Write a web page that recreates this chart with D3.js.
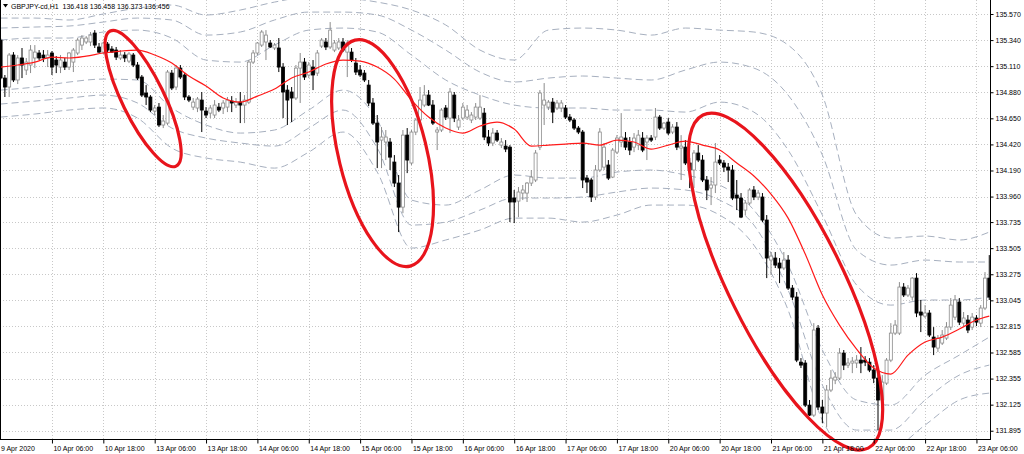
<!DOCTYPE html>
<html><head><meta charset="utf-8">
<script src="https://cdn.jsdelivr.net/npm/d3@7/dist/d3.min.js"></script>
<style>
html,body{margin:0;padding:0;background:#fff;overflow:hidden;}
svg{display:block;}
text{font-family:"Liberation Sans",Arial,sans-serif;font-size:7px;fill:#000;}
</style></head><body>
<svg id="c" width="1024" height="454"></svg>
<script>
const header = "GBPJPY-cd,H1  136.418 136.458 136.373 136.456";
const opens = [
135.340,135.005,134.926,135.208,134.988,135.182,135.076,135.120,135.182,135.226,
135.208,135.182,135.226,135.164,135.102,135.146,135.102,135.146,135.226,135.296,
135.323,135.323,135.402,135.279,135.234,135.305,135.261,135.252,135.182,135.208,
135.155,135.208,135.120,135.014,134.873,134.838,134.714,134.749,134.591,134.608,
135.049,134.926,135.093,135.032,134.838,134.749,134.741,134.811,134.714,134.696,
134.679,134.749,134.741,134.749,134.802,134.767,134.793,134.767,134.793,135.146,
135.226,135.296,135.323,135.314,135.270,135.270,135.102,134.899,134.882,134.829,
135.093,135.146,135.032,135.102,135.049,135.287,135.323,135.279,135.252,135.270,
135.323,135.234,135.234,135.137,135.076,135.049,134.943,134.785,134.608,134.458,
134.441,134.441,134.264,134.079,133.867,134.502,134.256,134.529,134.635,134.767,
134.855,134.767,134.529,134.547,134.741,134.652,134.855,134.573,134.652,134.661,
134.635,134.661,134.652,134.696,134.485,134.432,134.520,134.414,134.405,134.396,
133.947,133.920,133.991,133.991,134.079,134.106,134.396,134.767,134.749,134.793,
134.741,134.741,134.741,134.661,134.635,134.564,134.529,134.123,134.106,133.956,
134.194,134.220,134.238,134.132,134.352,134.441,134.476,134.441,134.396,134.414,
134.476,134.441,134.476,134.485,134.661,134.564,134.617,134.529,134.573,134.388,
134.396,134.256,134.194,134.344,134.282,134.106,134.035,134.062,134.282,134.256,
134.220,134.194,133.973,133.947,133.841,133.903,134.018,133.956,133.956,133.753,
133.400,133.418,133.374,133.330,133.400,133.153,133.074,132.500,132.492,132.121,
132.033,132.800,132.104,132.051,132.254,132.342,132.359,132.580,132.474,132.492,
132.492,132.518,132.518,132.500,132.430,132.359,132.166,132.315,132.518,132.756,
132.756,133.162,133.092,133.074,133.241,132.942,132.906,132.933,132.721,132.624,
132.668,132.712,132.809,132.897,133.030,132.844,132.871,132.809,132.889,132.844,
132.977,133.241];
const highs = [
135.358,135.032,135.226,135.234,135.208,135.270,135.182,135.296,135.296,135.252,
135.252,135.252,135.243,135.199,135.208,135.182,135.234,135.270,135.358,135.384,
135.375,135.411,135.428,135.314,135.323,135.323,135.287,135.279,135.252,135.234,
135.234,135.226,135.146,135.032,134.943,134.855,134.767,134.785,134.679,135.076,
135.076,135.120,135.120,135.049,134.855,134.829,134.838,134.882,134.749,134.767,
134.811,134.785,134.811,134.838,134.846,134.829,134.882,134.855,135.164,135.252,
135.323,135.428,135.428,135.340,135.314,135.358,135.137,134.943,134.926,135.120,
135.226,135.182,135.146,135.164,135.252,135.358,135.358,135.499,135.340,135.358,
135.358,135.340,135.270,135.182,135.120,135.076,134.988,134.829,134.679,134.573,
134.547,134.476,134.326,134.150,134.547,134.564,134.547,134.652,134.926,134.943,
134.899,134.811,134.573,134.741,134.767,134.917,134.882,134.679,134.785,134.767,
134.705,134.785,134.855,134.741,134.547,134.564,134.547,134.476,134.458,134.414,
134.018,134.044,134.062,134.088,134.194,134.370,134.899,134.961,134.811,134.829,
134.811,134.811,134.767,134.688,134.652,134.582,134.547,134.150,134.123,134.238,
134.564,134.432,134.282,134.388,134.502,134.696,134.529,134.485,134.520,134.547,
134.529,134.502,134.502,134.741,134.679,134.617,134.652,134.599,134.617,134.502,
134.458,134.300,134.370,134.414,134.326,134.141,134.132,134.432,134.326,134.282,
134.256,134.238,134.106,133.991,133.929,134.035,134.053,134.018,133.991,133.797,
133.471,133.471,133.418,133.471,133.444,133.180,133.118,132.536,132.518,132.166,
132.844,132.827,132.166,132.298,132.430,132.412,132.624,132.607,132.536,132.545,
132.562,132.633,132.553,132.536,132.474,132.403,132.386,132.536,132.844,132.871,
133.206,133.197,133.180,133.250,133.285,133.048,133.003,132.959,132.809,132.739,
132.783,132.853,133.065,133.092,133.065,132.942,132.915,132.933,132.915,133.003,
133.294,133.444];
const lows = [
134.988,134.838,134.838,134.970,134.952,135.005,135.032,135.049,135.093,135.164,
135.146,135.102,135.032,135.049,135.049,135.076,135.076,135.058,135.208,135.252,
135.305,135.287,135.270,135.226,135.217,135.234,135.226,135.164,135.164,135.146,
135.137,135.102,134.988,134.838,134.767,134.705,134.679,134.573,134.564,134.591,
134.899,134.899,134.996,134.811,134.793,134.723,134.705,134.529,134.652,134.652,
134.652,134.705,134.688,134.705,134.705,134.741,134.608,134.608,134.776,135.129,
135.208,135.279,135.164,135.270,135.252,135.058,134.652,134.591,134.617,134.811,
134.785,134.988,135.005,134.899,135.023,135.270,135.252,135.261,135.234,135.252,
135.234,135.014,135.146,135.032,135.014,134.970,134.758,134.591,134.211,134.211,
134.282,134.194,134.044,133.647,133.814,134.167,134.238,134.502,134.617,134.749,
134.758,134.591,134.370,134.529,134.635,134.520,134.617,134.547,134.635,134.635,
134.608,134.635,134.635,134.458,134.405,134.405,134.441,134.388,134.352,133.735,
133.726,133.779,133.929,133.912,134.053,134.088,134.370,134.591,134.723,134.608,
134.723,134.705,134.644,134.617,134.547,134.511,134.035,133.991,133.912,133.929,
134.176,134.194,134.106,134.123,134.335,134.396,134.370,134.326,134.352,134.370,
134.352,134.282,134.441,134.458,134.547,134.547,134.502,134.511,134.370,134.106,
134.238,134.035,134.035,134.264,134.088,133.929,133.885,133.991,134.238,134.176,
134.088,133.929,133.841,133.770,133.797,133.885,133.929,133.929,133.735,133.241,
133.268,133.330,133.197,133.312,133.136,133.048,132.500,132.448,132.104,132.025,
132.016,132.078,131.963,131.928,132.236,132.306,132.342,132.430,132.448,132.403,
132.448,132.403,132.465,132.412,132.315,131.901,132.078,132.298,132.500,132.739,
132.739,133.074,133.074,133.048,132.897,132.765,132.889,132.721,132.562,132.589,
132.651,132.695,132.783,132.871,132.827,132.818,132.756,132.783,132.818,132.809,
132.959,133.048];
const closes = [
135.005,134.926,135.208,134.988,135.182,135.120,135.146,135.252,135.234,135.182,
135.182,135.208,135.102,135.120,135.164,135.102,135.226,135.252,135.340,135.358,
135.358,135.384,135.296,135.234,135.314,135.252,135.234,135.190,135.208,135.182,
135.217,135.120,135.005,134.855,134.838,134.723,134.741,134.591,134.626,135.058,
134.917,135.093,135.014,134.838,134.811,134.793,134.820,134.723,134.679,134.741,
134.767,134.723,134.785,134.811,134.785,134.793,134.767,134.811,135.146,135.226,
135.314,135.411,135.384,135.279,135.296,135.102,134.882,134.811,134.829,135.093,
135.146,135.014,135.120,135.032,135.226,135.340,135.279,135.428,135.314,135.323,
135.252,135.314,135.164,135.058,135.032,134.988,134.785,134.608,134.441,134.485,
134.485,134.308,134.079,133.867,134.502,134.282,134.529,134.635,134.811,134.855,
134.767,134.608,134.547,134.723,134.661,134.882,134.652,134.635,134.749,134.723,
134.679,134.749,134.749,134.485,134.432,134.520,134.458,134.441,134.379,133.912,
133.912,134.000,134.018,134.079,134.132,134.344,134.873,134.811,134.793,134.705,
134.785,134.785,134.661,134.635,134.564,134.529,134.106,134.088,133.956,134.194,
134.529,134.396,134.123,134.370,134.476,134.485,134.396,134.370,134.476,134.502,
134.370,134.476,134.458,134.661,134.564,134.608,134.520,134.573,134.396,134.405,
134.256,134.194,134.344,134.282,134.106,134.018,134.062,134.264,134.256,134.220,
134.194,133.947,133.947,133.779,133.903,134.018,133.956,133.991,133.753,133.418,
133.435,133.356,133.330,133.400,133.153,133.074,132.518,132.474,132.121,132.033,
132.783,132.104,132.051,132.254,132.359,132.368,132.580,132.474,132.492,132.509,
132.518,132.492,132.500,132.430,132.359,132.166,132.324,132.518,132.756,132.827,
133.162,133.092,133.153,133.241,132.933,132.915,132.933,132.739,132.633,132.712,
132.739,132.809,133.003,133.048,132.853,132.889,132.783,132.897,132.853,132.977,
133.241,133.074];
// moving average (red line), read every 4 bars
const maBars = [0,4,8,12,16,20,24,28,32,36,40,44,48,52,56,60,64,68,72,76,80,84,88,92,96,100,104,108,112,116,120,124,128,132,136,140,144,148,152,156,160,164,168,172,176,180,184,188,192,196,200,204,208,212,216,220,224,228,231];
const maValues = [135.102,135.120,135.146,135.190,135.182,135.199,135.226,135.243,135.252,135.208,135.137,135.023,134.935,134.829,134.793,134.846,134.908,135.005,135.058,135.129,135.164,135.155,135.102,134.996,134.811,134.661,134.564,134.520,134.582,134.617,134.555,134.405,134.414,134.423,134.432,134.414,134.458,134.441,134.379,134.414,134.449,134.414,134.370,134.256,134.141,133.982,133.770,133.453,133.092,132.827,132.615,132.448,132.395,132.562,132.677,132.721,132.792,132.871,132.906];
// dashed channel lines, read every 8 bars
const bandBars = [0,8,16,24,32,40,48,56,64,72,80,88,96,104,112,120,128,136,144,152,160,168,176,184,192,200,208,216,224,231];
const upper3 = [135.534,135.534,135.517,135.570,135.622,135.649,135.561,135.605,135.675,135.719,135.711,135.675,135.605,135.473,135.252,135.164,135.428,135.446,135.428,135.384,135.446,135.428,135.411,135.296,134.855,133.797,133.594,133.612,133.577,133.647];
const upper2 = [135.446,135.455,135.464,135.499,135.534,135.517,135.384,135.411,135.517,135.587,135.587,135.561,135.428,135.252,135.058,134.970,135.005,135.023,135.005,134.988,135.076,135.146,135.093,134.855,134.326,133.488,133.356,133.400,133.383,133.383];
const upper1 = [135.340,135.358,135.358,135.411,135.428,135.358,135.164,135.146,135.296,135.428,135.446,135.411,135.208,134.988,134.855,134.767,134.741,134.741,134.723,134.723,134.705,134.793,134.705,134.370,133.797,133.180,133.003,133.048,133.048,133.074];
const lower1 = [134.899,134.926,134.970,134.996,134.988,134.741,134.591,134.520,134.547,134.723,134.899,134.635,133.929,133.885,134.018,134.150,134.123,134.123,134.176,134.194,134.150,134.062,133.841,133.356,132.607,132.166,132.121,132.386,132.562,132.721];
const lower2 = [134.776,134.802,134.829,134.855,134.785,134.564,134.476,134.432,134.405,134.564,134.723,134.388,133.709,133.735,133.841,133.947,133.947,133.956,134.000,134.035,134.018,133.929,133.709,133.136,132.298,131.901,131.901,132.166,132.386,132.474];
const lower3 = [134.661,134.688,134.723,134.741,134.652,134.388,134.300,134.264,134.211,134.352,134.529,134.176,133.506,133.577,133.665,133.770,133.770,133.735,133.797,133.885,133.885,133.797,133.532,132.959,131.989,131.681,131.725,131.945,132.166,132.227];
const priceTicks = [135.570,135.340,135.110,134.880,134.650,134.420,134.190,133.960,133.735,133.505,133.275,133.045,132.815,132.585,132.355,132.125,131.895];
const timeTickBars = [0,12,24,36,48,60,72,84,96,108,120,132,144,156,168,180,192,204,216,228];
const timeTickLabels = ["9 Apr 2020","10 Apr 06:00","10 Apr 18:00","13 Apr 06:00","13 Apr 18:00","14 Apr 06:00","14 Apr 18:00","15 Apr 06:00","15 Apr 18:00","16 Apr 06:00","16 Apr 18:00","17 Apr 06:00","17 Apr 18:00","20 Apr 06:00","20 Apr 18:00","21 Apr 06:00","21 Apr 18:00","22 Apr 06:00","22 Apr 18:00","23 Apr 06:00"];
// hand-drawn red ellipses: axis from (bar, price) to (bar, price), half width px
const marks = [
  {b0:25.6, p0:135.420, b1:41.0, p1:134.229, hw:21},
  {b0:82.8, p0:135.340, b1:95.7, p1:133.347, hw:44},
  {b0:164.1, p0:134.679, b1:202.7, p1:131.742, hw:57}
];

const svg = d3.select("#c");
const L = 0, R = 990, T = 0, B = 440;
const x = d3.scaleLinear().domain([0, 231]).range([0.6, 989.28]);
const y = d3.scaleLinear().domain([131.8134, 135.6846]).range([440, 1]);

svg.append("defs").append("clipPath").attr("id","clip")
  .append("rect").attr("x",L).attr("y",T).attr("width",R-L).attr("height",B-T);

// grid
const grid = svg.append("g");
grid.selectAll("line.h").data(priceTicks).join("line")
  .attr("x1",L).attr("x2",R).attr("y1",d=>Math.round(y(d))+0.5).attr("y2",d=>Math.round(y(d))+0.5)
  .attr("stroke","#c8c8c8").attr("stroke-dasharray","1,2");
grid.selectAll("line.v").data(timeTickBars.slice(1)).join("line")
  .attr("y1",T).attr("y2",B).attr("x1",d=>Math.round(x(d))+0.5).attr("x2",d=>Math.round(x(d))+0.5)
  .attr("stroke","#c8c8c8").attr("stroke-dasharray","1,2");

const plot = svg.append("g").attr("clip-path","url(#clip)");

// dashed channel lines
const bandLine = d3.line().x(d=>x(d[0])).y(d=>y(d[1])).curve(d3.curveMonotoneX);
[upper3,upper2,upper1,lower1,lower2,lower3].forEach(arr=>{
  plot.append("path").datum(bandBars.map((b,k)=>[b,arr[k]]))
    .attr("d",bandLine).attr("fill","none").attr("stroke","#a7b0bf")
    .attr("stroke-width",1).attr("stroke-dasharray","7,4");
});

// candles
const idx = d3.range(opens.length);
const cg = plot.append("g");
cg.selectAll("line").data(idx).join("line")
  .attr("x1",i=>x(i)).attr("x2",i=>x(i))
  .attr("y1",i=>y(highs[i])).attr("y2",i=>y(lows[i]))
  .attr("stroke",i=>closes[i]>=opens[i]?"#8c8c8c":"#000").attr("stroke-width",1);
cg.selectAll("rect").data(idx).join("rect")
  .attr("x",i=>x(i)-1.5).attr("width",3)
  .attr("y",i=>y(Math.max(opens[i],closes[i])))
  .attr("height",i=>Math.max(0.8,Math.abs(y(opens[i])-y(closes[i]))))
  .attr("fill",i=>closes[i]>=opens[i]?"#fff":"#000")
  .attr("stroke",i=>closes[i]>=opens[i]?"#8c8c8c":"#000").attr("stroke-width",0.8);

// MA
plot.append("path").datum(maBars.map((b,k)=>[b,maValues[k]]))
  .attr("d",d3.line().x(d=>x(d[0])).y(d=>y(d[1])).curve(d3.curveMonotoneX))
  .attr("fill","none").attr("stroke","#ff1a1a").attr("stroke-width",1.2);

// ellipses
svg.append("g").selectAll("ellipse").data(marks).join("ellipse")
  .each(function(m){
    const xa=x(m.b0), ya=y(m.p0), xb=x(m.b1), yb=y(m.p1);
    const cx=(xa+xb)/2, cy=(ya+yb)/2;
    const len=Math.hypot(xb-xa,yb-ya)/2;
    const ang=Math.atan2(yb-ya,xb-xa)*180/Math.PI;
    d3.select(this).attr("cx",0).attr("cy",0).attr("rx",len).attr("ry",m.hw)
      .attr("transform",`translate(${cx},${cy}) rotate(${ang})`);
  })
  .attr("fill","none").attr("stroke","#e8141c").attr("stroke-width",3.2);

// axes
const ya = svg.append("g").attr("transform",`translate(${R+0.5},0)`)
  .call(d3.axisRight(y).tickValues(priceTicks).tickFormat(d3.format(".3f")).tickSize(3).tickPadding(2));
ya.select(".domain").attr("stroke","#000").attr("d",`M0,0V${B}`);
ya.selectAll("text").style("font-size","7px").attr("fill","#222");
ya.selectAll(".tick line").attr("stroke","#000");

const xa = svg.append("g").attr("transform",`translate(0,${B-0.5})`)
  .call(d3.axisBottom(x).tickValues(timeTickBars).tickFormat((d,k)=>timeTickLabels[k]).tickSize(4).tickSizeOuter(0));
xa.select(".domain").attr("stroke","#000").attr("d",`M0,0H${R}`);
xa.selectAll(".tick line").attr("stroke","#000").filter((d,k)=>k===0).remove();
xa.selectAll("text").attr("text-anchor","start").attr("dx","1").attr("dy","0").attr("y",11).attr("fill","#222").style("font-size","7px");
xa.selectAll(".tick").filter((d,k)=>k===0).attr("transform","translate(0,0)");

// left border
svg.append("line").attr("x1",0.5).attr("x2",0.5).attr("y1",0).attr("y2",B).attr("stroke","#000");

// header
svg.append("path").attr("d","M3,4 L8,4 L5.5,7.5 Z").attr("fill","#000");
svg.append("text").attr("x",11).attr("y",8.5).text(header).style("white-space","pre");
</script>
</body></html>
